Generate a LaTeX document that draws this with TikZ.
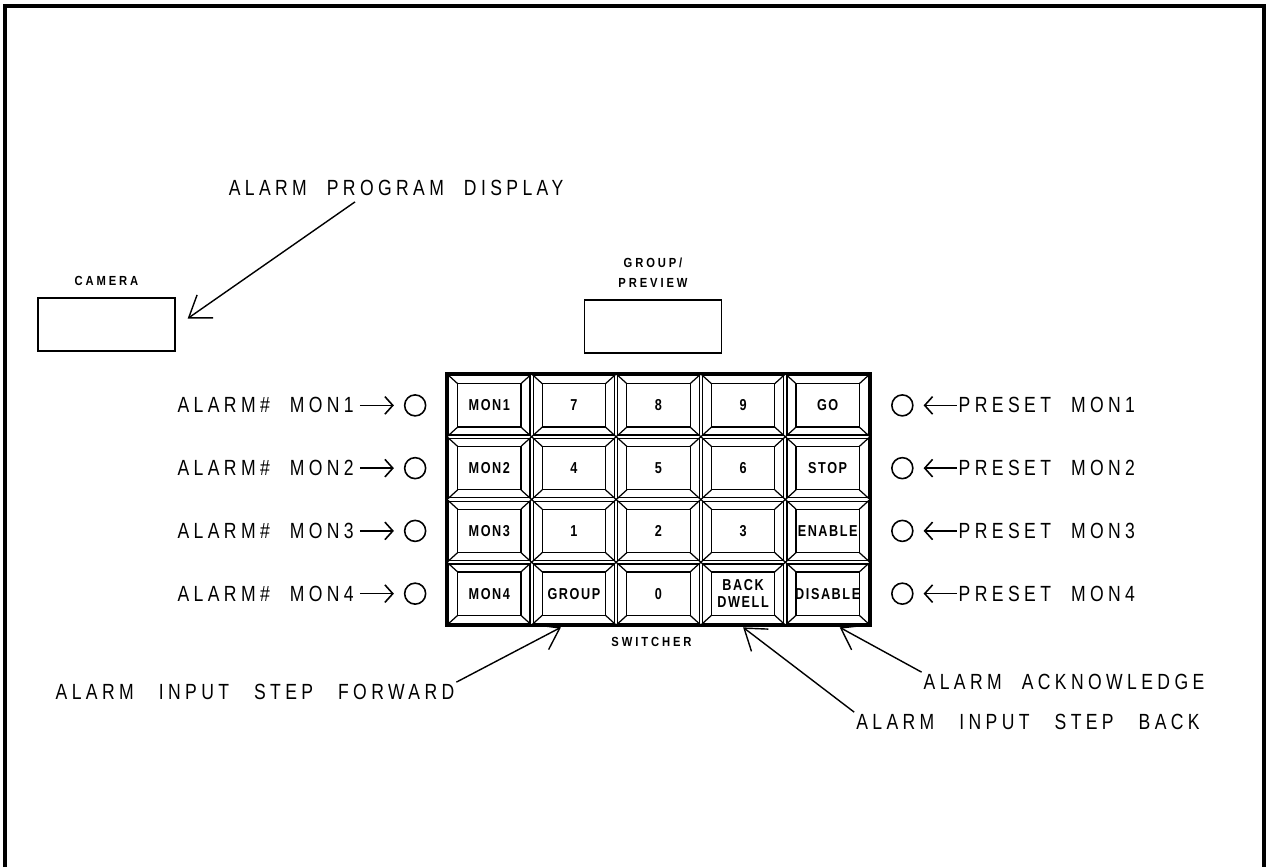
\documentclass[tikz,border=0pt]{standalone}
\usepackage{fontspec}
\setmainfont{Liberation Sans}
\newfontfamily\plotfont[LetterSpace=20,FakeStretch=0.8]{Liberation Sans}
\newfontfamily\keyfont[LetterSpace=10,FakeStretch=0.8]{Liberation Sans}
\newfontfamily\tagfont[LetterSpace=22,FakeStretch=0.85]{Liberation Sans}
\newcommand{\wordgap}{\hspace{0.4cm}}
\newcommand{\widegap}{\hspace{0.5cm}}
\usepackage{tikz}
\usetikzlibrary{arrows.meta, calc, positioning}
\tikzstyle{keycell} = [%
  rectangle,
  minimum width=1.692cm,
  minimum height=1.255cm,
  inner sep=0pt,
  align=center,
  font=\keyfont\bfseries\fontsize{9}{9.5}\selectfont
]
\tikzstyle{callout} = [%
  inner sep=1pt,
  font=\plotfont\fontsize{12.5}{14}\selectfont
]
\tikzstyle{tag} = [%
  inner sep=1pt,
  align=center,
  font=\tagfont\bfseries\fontsize{7.5}{11.4}\selectfont
]
\tikzstyle{display} = [%
  rectangle,
  draw=black,
  line width=0.8pt,
  minimum width=2.74cm,
  minimum height=1.06cm
]
\tikzstyle{lamp} = [%
  circle,
  draw=black,
  line width=0.9pt,
  minimum size=0.42cm,
  inner sep=0pt
]

\begin{document}
\begin{tikzpicture}[%
  x=0.02cm, y=-0.02cm,
  >={Straight Barb[length=0.4cm,width=0.56cm]},
  pointer/.style={->, line width=0.8pt},
  tick/.style={-{Straight Barb[length=4.5pt,width=10pt]}, line width=0.9pt},
  bevel/.style={line width=0.7pt}
]
  \useasboundingbox (0,0) rectangle (1268,867);

  % Sheet frame
  \draw[line width=1.8pt] (5,867) -- (5,6) -- (1264,6) -- (1264,867);

  % Switcher keys
  \foreach \lab [count=\i from 0] in {MON1,7,8,9,GO,MON2,4,5,6,STOP,MON3,1,2,3,ENABLE,MON4,GROUP,0,{BACK\\DWELL},DISABLE} {
    \pgfmathtruncatemacro\r{int(\i/5)+1}
    \pgfmathtruncatemacro\c{mod(\i,5)+1}
    \node[keycell] (k-\r-\c) at ({447+84.6*(\c-0.5)},{374+62.75*(\r-0.5)}) {\lab};
    \draw[bevel] (k-\r-\c.north west) ++(2,2) rectangle ($(k-\r-\c.south east)+(-2,-2)$);
    \draw[bevel] ($(k-\r-\c.north west)+(11,10)$) rectangle ($(k-\r-\c.south east)+(-11,-10)$);
    \draw[bevel] (k-\r-\c.north west) -- ++(11,10) (k-\r-\c.north east) -- ++(-11,10)
      (k-\r-\c.south west) -- ++(11,-10) (k-\r-\c.south east) -- ++(-11,-10);
  }
  \draw[line width=1.4pt] (k-1-1.north west) rectangle (k-4-5.south east);
  \node[tag, below=0.2cm of k-4-3, xshift=-0.14cm] (sw) {SWITCHER};

  % Lamps either side
  \foreach \r in {1,...,4} {
    \node[lamp] (al\r) at ($(k-\r-1.west)+(-31.5,0)$) {};
    \node[callout, anchor=east] (alt\r) at ($(al\r.west)+(-48,0)$) {ALARM\#\wordgap MON\r};
    \draw[tick, shorten <=0.08cm, shorten >=0.2cm] (alt\r) -- (al\r);
    \node[lamp] (pl\r) at ($(k-\r-5.east)+(32,0)$) {};
    \node[callout, anchor=west] (plt\r) at ($(pl\r.east)+(43,0)$) {PRESET\wordgap MON\r};
    \draw[tick, shorten >=0.2cm] (plt\r) -- (pl\r);
  }

  % Displays
  \node[display] (cam) at (106.5,324.5) {};
  \node[tag, above=0.2cm of cam] (camtag) {CAMERA};
  \node[display] (prev) at (653,326.5) {};
  \node[tag, above=0.2cm of prev] (prevtag) {GROUP/\\PREVIEW};

  % Call-outs
  \node[callout] (apd) at (396,188) {ALARM\wordgap PROGRAM\wordgap DISPLAY};
  \coordinate (apdfoot) at ($(apd.south)+(-41,4)$);
  \coordinate (camtip) at ($(cam.east)+(12,-6)$);
  \draw[pointer] (apdfoot) -- (camtip);

  \node[callout] (fwd) at (255,692) {ALARM\widegap INPUT\widegap STEP\widegap FORWARD};
  \node[callout] (back) at (1028,722) {ALARM\widegap INPUT\widegap STEP\widegap BACK};
  \node[callout] (ack) at (1064,682) {ALARM\wordgap ACKNOWLEDGE};
  \coordinate (fwdtip) at ($(k-4-2.south)+(-13,2)$);
  \coordinate (backtip) at ($(k-4-4.south)+(0,2)$);
  \coordinate (acktip) at ($(k-4-5.south)+(12,2)$);
  \draw[pointer] (fwd.north east) -- (fwdtip);
  \draw[pointer] (back.north west) -- (backtip);
  \draw[pointer] (ack.north west) -- (acktip);

\end{tikzpicture}
\end{document}
